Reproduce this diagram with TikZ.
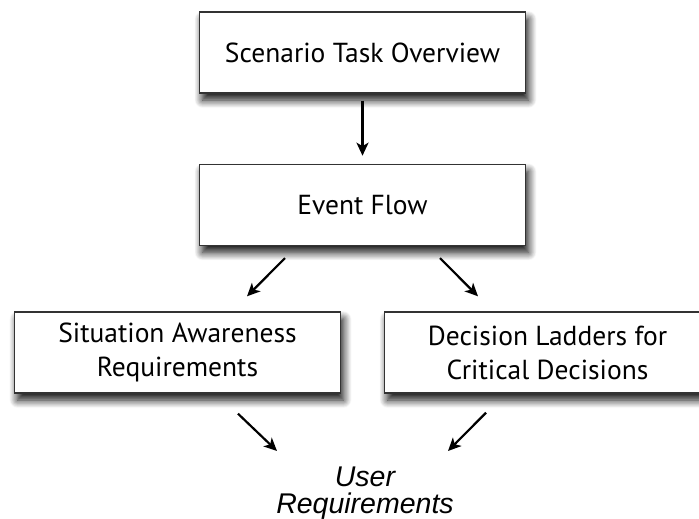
\documentclass[tikz,border=0pt]{standalone}
\usepackage{fontspec}
\setmainfont{PT Sans}
\newfontfamily\userfont{Liberation Sans}
\usetikzlibrary{positioning,arrows.meta,shadows.blur}

\begin{document}
\begin{tikzpicture}[
    x=1pt, y=-1pt,
    node distance=70pt,
    box/.style={rectangle, draw=black!80, line width=1.4pt, fill=white, minimum width=326pt, minimum height=81pt, align=center, font=\fontsize{27.5}{34}\selectfont, blur shadow={shadow xshift=3pt, shadow yshift=-7pt, shadow blur radius=8pt, shadow blur steps=14, shadow opacity=95}},
    arrow/.style={-{Stealth[length=13pt,width=12pt,inset=3.5pt]}, line width=2.2pt}
]
    \useasboundingbox (0,0) rectangle (699,519);

    \node[box] (overview) at (362.5,52.5) {Scenario Task Overview};
    \node[box, below=of overview] (flow) {Event Flow};
    \node[box] (sa) at (177.5,352.5) {Situation Awareness\\Requirements};
    \node[box] (ladders) at (547.5,352.5) {Decision Ladders for\\Critical Decisions};
    \node[align=center, font={\userfont\itshape\fontsize{28.5}{27}\selectfont}] (user) at (365,493) {User\\Requirements};

    \draw[arrow, shorten <=7pt, shorten >=8pt] (overview) -- (flow);
    \draw[arrow] ([xshift=-77.5pt,yshift=-12pt]flow.south) -- ([xshift=69.5pt,yshift=15pt]sa.north);
    \draw[arrow] ([xshift=77.5pt,yshift=-12pt]flow.south) -- ([xshift=-69.5pt,yshift=15pt]ladders.north);
    \draw[arrow] ([xshift=60.5pt,yshift=-20pt]sa.south) -- ([xshift=-88pt,yshift=42pt]user.center);
    \draw[arrow] ([xshift=-61.5pt,yshift=-19pt]ladders.south) -- ([xshift=83pt,yshift=42pt]user.center);
\end{tikzpicture}
\end{document}
